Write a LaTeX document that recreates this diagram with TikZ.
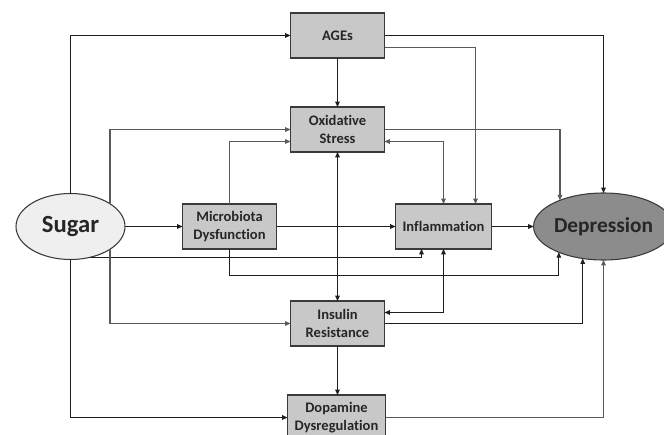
\documentclass[tikz,border=0pt]{standalone}
\usepackage{fontspec}
\setmainfont{Carlito}[Ligatures=NoCommon]
\usetikzlibrary{arrows.meta,calc,shapes.geometric}
\definecolor{boxfill}{HTML}{C8C8C8}
\definecolor{boxline}{HTML}{3A3A3A}
\definecolor{sugfill}{HTML}{EFEFEF}
\definecolor{depfill}{HTML}{8C8C8C}
\definecolor{txt}{HTML}{262626}
\definecolor{dk}{HTML}{1E1E1E}
\definecolor{gr}{HTML}{5A5A5A}
\tikzset{
  factor/.style={draw=boxline, fill=boxfill, line width=0.9pt, rectangle,
    minimum width=70.5pt, minimum height=33.75pt, inner sep=0pt, outer sep=0pt,
    align=center, font=\bfseries\fontsize{10.9}{13.5}\selectfont, text=txt},
  oval/.style={draw=boxline, line width=0.8pt, ellipse, inner sep=0pt, outer sep=0pt,
    text=txt},
  conn/.style={line width=0.8pt, -{Triangle[length=4pt,width=3.4pt]}},
  biconn/.style={line width=0.8pt, {Triangle[length=4pt,width=3.4pt]}-{Triangle[length=4pt,width=3.4pt]}},
  dkl/.style={draw=dk},
  grl/.style={draw=gr, line width=1pt}
}
\begin{document}
\begin{tikzpicture}[x=0.75pt,y=-0.75pt]
\useasboundingbox (0,0) rectangle (664,435);
% nodes
\node[factor] (ages) at (337.5,35.5) {AGEs};
\node[factor] (ox) at (337.5,129.5) {Oxidative\\Stress};
\node[factor] (mic) at (229.5,226.5) {Microbiota\\Dysfunction};
\node[factor, minimum width=72pt] (inf) at (443.5,226.5) {Inflammation};
\node[factor] (ins) at (337.5,323.5) {Insulin\\Resistance};
\node[factor, minimum width=73.5pt] (dop) at (336.5,417.5) {Dopamine\\Dysregulation};
\node[oval, fill=sugfill, minimum width=81.75pt, minimum height=49.5pt,
  font=\bfseries\fontsize{18.5}{20}\selectfont] (sug) at (70.5,226.5) {Sugar};
\node[oval, fill=depfill, minimum width=81pt, minimum height=50.25pt,
  font=\bfseries\fontsize{16}{18}\selectfont] (dep) at (603.5,226.5) {Depression};
% connectors
\draw[conn,dkl] (sug.north) |- (ages.west);
\draw[conn,grl] (sug.30.58) |- (ox.west);
\draw[conn,grl] (mic.north) |- ($(ox.west)+(0,12)$);
\draw[conn,dkl] (sug.east) -- (mic.west);
\draw[conn,dkl] (mic.east) -- (inf.west);
\draw[conn,dkl] (inf.east) -- (dep.west);
\draw[conn,dkl] (sug.-58.9) -| ($(inf.south)+(-22,0)$);
\draw[conn,dkl] (mic.south) -- ++(0,26.5) -| (dep.210.75);
\draw[conn,grl] (ox.east) -| (dep.149.25);
\draw[conn,dkl] (ages.east) -| (dep.north);
\draw[conn,grl] ($(ages.east)+(0,12)$) -| ($(inf.north)+(32,0)$);
\draw[conn,dkl] (ages.south) -- (ox.north);
\draw[biconn,grl] ($(ox.east)+(0,12)$) -| (inf.north);
\draw[biconn,dkl] (ox.south) -- (ins.north);
\draw[biconn,dkl] ($(ins.east)+(0,-11)$) -| (inf.south);
\draw[conn,dkl] (ins.east) -| (dep.237.3);
\draw[conn,dkl] (ins.south) -- (ins.south |- dop.north);
\draw[conn,grl] (dop.east) -| (dep.south);
\draw[conn,grl] (sug.-30.58) |- (ins.west);
\draw[conn,dkl] (sug.south) |- (dop.west);
\end{tikzpicture}
\end{document}
